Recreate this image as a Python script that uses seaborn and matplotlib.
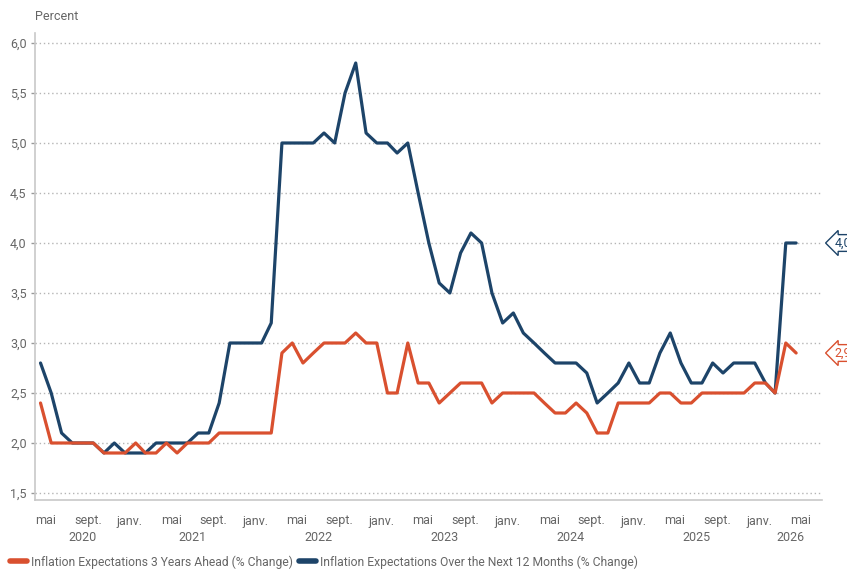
import pandas as pd
import matplotlib.pyplot as plt
import matplotlib.dates as mdates
from matplotlib.lines import Line2D
from matplotlib.ticker import FuncFormatter, MultipleLocator
import seaborn as sns

# Monthly survey values, May 2020 - May 2026
months = pd.date_range("2020-05-01", "2026-05-01", freq="MS")

expect_3y = [
    2.4, 2.0, 2.0, 2.0, 2.0, 2.0, 1.9, 1.9, 1.9, 2.0, 1.9, 1.9,
    2.0, 1.9, 2.0, 2.0, 2.0, 2.1, 2.1, 2.1, 2.1, 2.1, 2.1, 2.9,
    3.0, 2.8, 2.9, 3.0, 3.0, 3.0, 3.1, 3.0, 3.0, 2.5, 2.5, 3.0,
    2.6, 2.6, 2.4, 2.5, 2.6, 2.6, 2.6, 2.4, 2.5, 2.5, 2.5, 2.5,
    2.4, 2.3, 2.3, 2.4, 2.3, 2.1, 2.1, 2.4, 2.4, 2.4, 2.4, 2.5,
    2.5, 2.4, 2.4, 2.5, 2.5, 2.5, 2.5, 2.5, 2.6, 2.6, 2.5, 3.0,
    2.9,
]

expect_12m = [
    2.8, 2.5, 2.1, 2.0, 2.0, 2.0, 1.9, 2.0, 1.9, 1.9, 1.9, 2.0,
    2.0, 2.0, 2.0, 2.1, 2.1, 2.4, 3.0, 3.0, 3.0, 3.0, 3.2, 5.0,
    5.0, 5.0, 5.0, 5.1, 5.0, 5.5, 5.8, 5.1, 5.0, 5.0, 4.9, 5.0,
    4.5, 4.0, 3.6, 3.5, 3.9, 4.1, 4.0, 3.5, 3.2, 3.3, 3.1, 3.0,
    2.9, 2.8, 2.8, 2.8, 2.7, 2.4, 2.5, 2.6, 2.8, 2.6, 2.6, 2.9,
    3.1, 2.8, 2.6, 2.6, 2.8, 2.7, 2.8, 2.8, 2.8, 2.6, 2.5, 4.0,
    4.0,
]

series_names = [
    "Inflation Expectations 3 Years Ahead (% Change)",
    "Inflation Expectations Over the Next 12 Months (% Change)",
]
month_names = {1: "janv.", 5: "mai", 9: "sept."}
years = [2020, 2021, 2022, 2023, 2024, 2025, 2026]

RED = "#d9502f"
BLUE = "#1d4469"
GREY_TXT = "#666666"
GREY_LN = "#c8c8c8"
FS = 9

sns.set_theme(style="white")
plt.rcParams["font.family"] = ["Roboto", "DejaVu Sans"]

fig, ax = plt.subplots(figsize=(8.47, 5.71), dpi=100)
fig.subplots_adjust(left=35 / 847, right=822 / 847, bottom=1 - 500 / 571, top=1 - 33 / 571)

# blue first so the red line sits on top where they overlap
sns.lineplot(x=months, y=expect_12m, color=BLUE, lw=2.3, ax=ax)
sns.lineplot(x=months, y=expect_3y, color=RED, lw=2.3, ax=ax)

x0 = pd.Timestamp("2020-04-15")
x1 = pd.Timestamp("2026-07-15")
ax.set_xlim(x0, x1)
ax.set_ylim(1.43, 6.1)

# y axis
ax.yaxis.set_major_locator(MultipleLocator(0.5))
ax.yaxis.set_major_formatter(FuncFormatter(lambda v, p: f"{v:.1f}".replace(".", ",")))
ax.grid(axis="y", color="#b5b5b5", lw=1.0, linestyle=(0, (1, 2)))
ax.grid(axis="x", visible=False)
ax.set_ylabel("")
ax.set_xlabel("")

# x axis: janv. = long ticks, mai / sept. = short ticks
ax.xaxis.set_major_locator(mdates.MonthLocator(bymonth=[1], bymonthday=15))
ax.xaxis.set_minor_locator(mdates.MonthLocator(bymonth=[5, 9], bymonthday=15))
fmt = FuncFormatter(lambda x, p: month_names[mdates.num2date(x).month])
ax.xaxis.set_major_formatter(fmt)
ax.xaxis.set_minor_formatter(fmt)

ax.tick_params(axis="x", which="major", length=5, width=1, color="#999999",
               labelsize=FS, labelcolor=GREY_TXT, pad=5.5)
ax.tick_params(axis="x", which="minor", length=2.5, width=1, color="#999999",
               labelsize=FS, labelcolor=GREY_TXT, pad=7.4)
ax.tick_params(axis="y", length=3, width=1, color="#999999",
               labelsize=FS, labelcolor=GREY_TXT, pad=3, left=True)

for side in ["top", "right"]:
    ax.spines[side].set_visible(False)
for side in ["left", "bottom"]:
    ax.spines[side].set_color(GREY_LN)
    ax.spines[side].set_linewidth(1.2)

# year labels centred under the visible part of each year
for yr in years:
    a = max(x0, pd.Timestamp(f"{yr}-01-15"))
    b = min(x1, pd.Timestamp(f"{yr + 1}-01-15"))
    mid = a + (b - a) / 2
    ax.annotate(str(yr), xy=(mdates.date2num(mid), 0), xycoords=("data", "axes fraction"),
                xytext=(0, -27), textcoords="offset points",
                ha="center", va="center", fontsize=FS, color=GREY_TXT)

# last value tags on the right edge (cut by the figure edge, as in the original)
for vals, col in [(expect_12m, BLUE), (expect_3y, RED)]:
    last = vals[-1]
    ax.annotate(f"{last:.1f}".replace(".", ","), xy=(1, last),
                xycoords=("axes fraction", "data"),
                xytext=(9, 0), textcoords="offset points",
                ha="left", va="center", fontsize=FS, color=col,
                bbox=dict(boxstyle="larrow,pad=0.15", fc="white", ec=col, lw=1),
                annotation_clip=False)

fig.text(35 / 847, 1 - 16 / 571, "Percent", ha="left", va="center",
         fontsize=FS, color=GREY_TXT)

handles = [Line2D([], [], color=RED, lw=4), Line2D([], [], color=BLUE, lw=4)]
fig.legend(handles, series_names, loc="center left", bbox_to_anchor=(0.007, 1 - 562 / 571),
           ncol=2, frameon=False, fontsize=8.7, handlelength=1.45, handletextpad=0.3,
           columnspacing=0.5, labelcolor=GREY_TXT, borderaxespad=0, borderpad=0.3)

fig.savefig("out.png", dpi=100)
